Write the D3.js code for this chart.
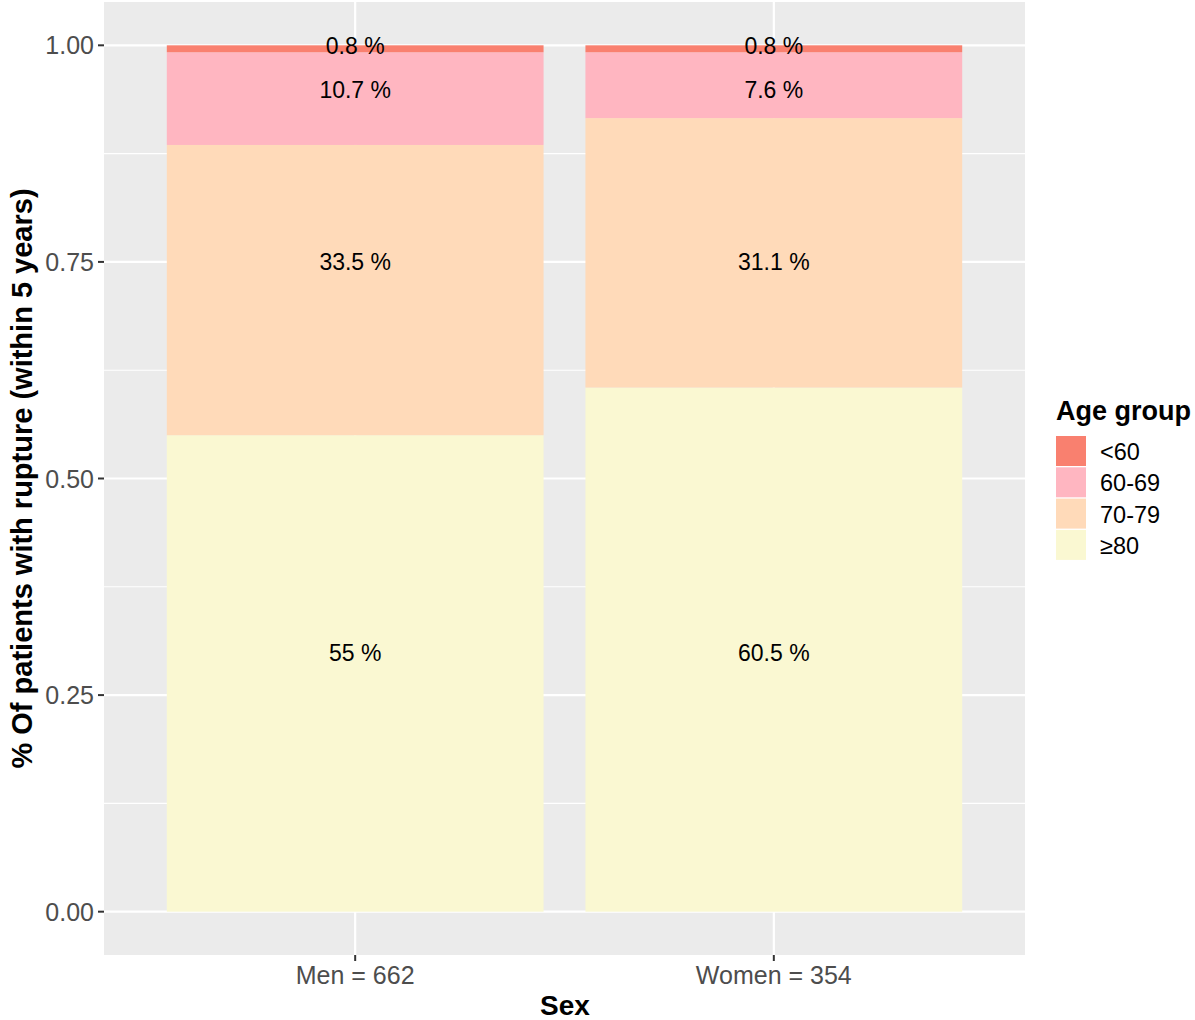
<!DOCTYPE html>
<html><head><meta charset="utf-8">
<script src="https://cdn.jsdelivr.net/npm/d3@7"></script>
<style>body{margin:0;background:#fff;}svg{display:block;font-family:"Liberation Sans",Arial,sans-serif;}</style>
</head><body>
<svg id="chart" width="1195" height="1020"></svg>
<script>
const categories = ["Men = 662", "Women = 354"];
const ageGroups = ["<60", "60-69", "70-79", "≥80"];
const stackOrder = ["≥80", "70-79", "60-69", "<60"];
const pctMen = [0.8, 10.7, 33.5, 55];
const pctWomen = [0.8, 7.6, 31.1, 60.5];
const labelPos = [0.999, 0.949, 0.75, 0.299];
const yTicks = [0, 0.25, 0.5, 0.75, 1];
const yMinor = [0.125, 0.375, 0.625, 0.875];
const colors = ["#F9806F", "#FFB6C1", "#FFDAB9", "#FAF8D2"];

const svg = d3.select("#chart");
const P = {l:104, r:1025, t:2, b:955};
// ggplot: discrete expansion 0.6 units, bar width 0.9
const xUnit = (P.r - P.l) / (categories.length - 1 + 1.2);
const x = d3.scalePoint().domain(categories).range([P.l + 0.6*xUnit, P.r - 0.6*xUnit]);
const xc = d => x(d);
const y = d3.scaleLinear().domain([-0.05, 1.05]).range([P.b, P.t]);
const color = d3.scaleOrdinal().domain(ageGroups).range(colors);

svg.append("rect").attr("x", P.l).attr("y", P.t).attr("width", P.r-P.l).attr("height", P.b-P.t).attr("fill", "#EBEBEB");
const g = svg.append("g");
g.selectAll(".minor").data(yMinor).join("line")
  .attr("x1", P.l).attr("x2", P.r).attr("y1", d=>y(d)).attr("y2", d=>y(d))
  .attr("stroke", "#fff").attr("stroke-width", 1.1);
g.selectAll(".major").data(yTicks).join("line")
  .attr("x1", P.l).attr("x2", P.r).attr("y1", d=>y(d)).attr("y2", d=>y(d))
  .attr("stroke", "#fff").attr("stroke-width", 2.2);
g.selectAll(".vmajor").data(categories).join("line")
  .attr("x1", d=>xc(d)).attr("x2", d=>xc(d)).attr("y1", P.t).attr("y2", P.b)
  .attr("stroke", "#fff").attr("stroke-width", 2.2);

const series = [pctMen, pctWomen];
const rows = categories.map((c, i) => {
  const o = {cat: c};
  ageGroups.forEach((a, j) => o[a] = series[i][j] / 100);
  return o;
});
const stack = d3.stack().keys(stackOrder)(rows);
const bw = 0.9 * xUnit;
stack.forEach(layer => {
  g.selectAll(null).data(layer).join("rect")
    .attr("x", d => xc(d.data.cat) - bw/2)
    .attr("width", bw)
    .attr("y", d => y(d[1]))
    .attr("height", d => y(d[0]) - y(d[1]))
    .attr("fill", color(layer.key));
});

categories.forEach((c, i) => {
  ageGroups.forEach((a, j) => {
    g.append("text").attr("x", xc(c)).attr("y", y(labelPos[j]))
      .attr("text-anchor", "middle").attr("dominant-baseline", "central")
      .attr("font-size", 23).attr("fill", "#000")
      .text(series[i][j] + " %");
  });
});

// Y axis
const yAxis = svg.append("g");
yAxis.selectAll("line").data(yTicks).join("line")
  .attr("x1", P.l-6).attr("x2", P.l).attr("y1", d=>y(d)).attr("y2", d=>y(d))
  .attr("stroke", "#333").attr("stroke-width", 2);
yAxis.selectAll("text").data(yTicks).join("text")
  .attr("x", P.l-10).attr("y", d=>y(d)).attr("text-anchor", "end").attr("dominant-baseline", "central")
  .attr("font-size", 25).attr("fill", "#4D4D4D").text(d3.format(".2f"));
// X axis
const xAxis = svg.append("g");
xAxis.selectAll("line").data(categories).join("line")
  .attr("x1", d=>xc(d)).attr("x2", d=>xc(d)).attr("y1", P.b).attr("y2", P.b+6)
  .attr("stroke", "#333").attr("stroke-width", 2);
xAxis.selectAll("text").data(categories).join("text")
  .attr("x", d=>xc(d)).attr("y", 975).attr("text-anchor", "middle").attr("dominant-baseline", "central")
  .attr("font-size", 25).attr("fill", "#4D4D4D").text(d=>d);

svg.append("text").attr("x", 565).attr("y", 1005).attr("text-anchor", "middle")
  .attr("dominant-baseline", "central").attr("font-size", 28).attr("font-weight", "bold").text("Sex");
svg.append("text").attr("transform", `translate(22,${(y(0)+y(1))/2}) rotate(-90)`)
  .attr("text-anchor", "middle").attr("dominant-baseline", "central")
  .attr("font-size", 29).attr("font-weight", "bold").text("% Of patients with rupture (within 5 years)");

// Legend
const lg = svg.append("g");
lg.append("text").attr("x", 1056).attr("y", 411).attr("dominant-baseline", "central")
  .attr("font-size", 27).attr("font-weight", "bold").text("Age group");
ageGroups.forEach((a, j) => {
  lg.append("rect").attr("x", 1056).attr("y", 436 + j*31.3).attr("width", 30).attr("height", 30).attr("fill", color(a));
  lg.append("text").attr("x", 1100).attr("y", 452 + j*31.3).attr("dominant-baseline", "central")
    .attr("font-size", 23.5).attr("fill", "#000").text(a);
});
</script>
</body></html>
